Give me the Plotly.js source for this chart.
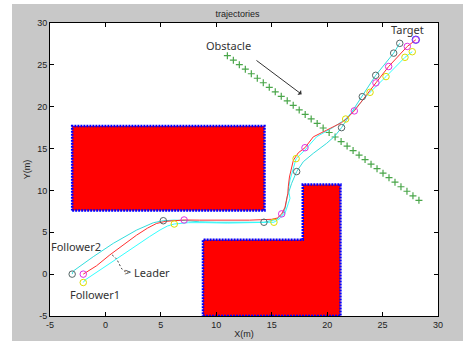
<!DOCTYPE html>
<html>
<head>
<meta charset="utf-8">
<script src="https://cdn.plot.ly/plotly-3.0.1.min.js"></script>
<style>
html,body{margin:0;padding:0;background:#ffffff;width:463px;height:341px;overflow:hidden;}
#chart{position:absolute;left:12px;top:4px;width:451px;height:337px;}
</style>
</head>
<body>
<div id="chart"></div>
<script>
// ---- data ----
var leaderX = [-2,-0.8,0.4,1.6,2.8,3.8,4.6,5.4,6.2,7.1,8.5,10,11.5,13,14,15,15.5,15.9,16.2,16.35,16.45,16.5,16.6,16.95,17.4,18.0,18.75,19.96,21.3,21.7,22.45,24.4,25.55,27.23,28];
var leaderY = [0,1.0,2.3,3.5,4.65,5.5,6.05,6.3,6.42,6.47,6.45,6.45,6.4,6.45,6.5,6.55,6.7,7.2,8.0,8.9,9.6,10.5,11.6,13.6,14.5,15.1,16.4,17.2,18.1,18.5,19.5,22.85,24.8,27.2,28];
var leaderMX = [-2,7.1,15.9,18.0,22.45,24.4,25.55,27.23,28];
var leaderMY = [0,6.47,7.2,15.1,19.5,22.85,24.8,27.2,28];

var f1X = [-2,-1.84,0.41,2.82,4.0,4.92,5.6,6.21,7.5,9,11,13,15.2,15.75,16.2,16.5,16.65,16.5,16.65,17.2,18.0,19.06,20.56,21.67,23.87,25.31,27.02,27.68];
var f1Y = [-1,-0.7,1.29,3.48,4.5,5.27,5.75,5.99,6.15,6.15,6.1,6.15,6.2,6.67,7.27,8.46,9.06,10.05,11.24,13.8,14.83,16.42,17.54,18.53,21.72,23.6,25.9,26.57];
var f1MX = [-2,6.21,15.2,17.2,21.67,23.87,25.31,27.02,27.68];
var f1MY = [-1,5.99,6.2,13.8,18.53,21.72,23.6,25.9,26.57];

var f2X = [-3,-2.9,-1.1,0.71,2.82,4.32,5.22,6.2,7.2,8.5,10,12,14.3,15.45,16.0,16.2,16.4,16.8,17.25,17.85,18.75,19.96,20.7,21.3,23.17,24.38,26.0,26.55];
var f2Y = [0,0.37,2.08,3.68,5.27,6.14,6.38,6.45,6.4,6.25,6.2,6.2,6.2,6.55,7.2,7.8,9.25,10.85,12.25,13.43,14.43,15.63,16.5,17.5,21.2,23.75,26.4,27.57];
var f2MX = [-3,5.22,14.3,17.25,21.3,23.17,24.38,26.0,26.55];
var f2MY = [0,6.38,6.2,12.25,17.5,21.2,23.75,26.4,27.57];

var targetX = [28];
var targetY = [28];

var obsLineX = [11.00,11.54,12.08,12.62,13.16,13.70,14.24,14.78,15.32,15.86,16.40,16.94,17.48,18.02,18.56,19.10,19.64,20.18,20.72,21.26,21.80,22.34,22.88,23.42,23.96,24.50,25.04,25.58,26.12,26.66,27.20,27.74,28.28];
var obsLineY = [26.10,25.56,25.02,24.48,23.94,23.40,22.86,22.32,21.78,21.24,20.70,20.16,19.62,19.08,18.54,18.00,17.46,16.92,16.38,15.84,15.30,14.76,14.22,13.68,13.14,12.60,12.06,11.52,10.98,10.44,9.90,9.36,8.82];

var rect1X = [-3,14.35,14.35,-3,-3];
var rect1Y = [7.6,7.6,17.7,17.7,7.6];
var lShapeX = [8.8,21.2,21.2,17.8,17.8,8.8,8.8];
var lShapeY = [-5,-5,10.7,10.7,4.1,4.1,-5];

var dashCurveX = [0.6,1.0,1.25,1.5,1.8,2.05];
var dashCurveY = [2.3,1.8,1.2,0.6,0.3,0.2];

var labelText = ["Obstacle","Target","Follower2","Follower1","Leader"];
var labelX = [11.12,27.23,-2.65,-0.94,4.17];
var labelY = [27.37,29.25,3.28,-2.49,0.22];

var arrowFrom = [13.49,25.66];
var arrowTo = [17.7,21.48];

var tickVals = [-5,0,5,10,15,20,25,30];
var tickText = ["-5","0","5","10","15","20","25","30"];

// ---- traces ----
var obstacleLine = {color:'#0000ff', width:2.5, dash:'2px,1px'};
var traces = [
  {x:rect1X, y:rect1Y, mode:'lines', fill:'toself', fillcolor:'#ff0000', line:obstacleLine, hoverinfo:'skip'},
  {x:lShapeX, y:lShapeY, mode:'lines', fill:'toself', fillcolor:'#ff0000', line:obstacleLine, hoverinfo:'skip'},
  {x:obsLineX, y:obsLineY, mode:'markers', marker:{symbol:'cross-thin', size:5, line:{color:'#4aa64a', width:1.2}}},
  {x:f2X, y:f2Y, mode:'lines', line:{color:'#33dddd', width:1}},
  {x:f1X, y:f1Y, mode:'lines', line:{color:'#33ffff', width:1}},
  {x:leaderX, y:leaderY, mode:'lines', line:{color:'#ff3030', width:1}},
  {x:f2MX, y:f2MY, mode:'markers', marker:{symbol:'circle-open', size:6.5, color:'#556666', line:{width:1}}},
  {x:f1MX, y:f1MY, mode:'markers', marker:{symbol:'circle-open', size:6.5, color:'#dddd00', line:{width:1}}},
  {x:leaderMX, y:leaderMY, mode:'markers', marker:{symbol:'circle-open', size:6.5, color:'#e030e0', line:{width:1}}},
  {x:targetX, y:targetY, mode:'markers', marker:{symbol:'circle-open', size:7.5, color:'#6040ff', line:{width:1}}},
  {x:dashCurveX, y:dashCurveY, mode:'lines', line:{color:'#444444', width:1, dash:'2px,2px', shape:'spline'}}
];

var annFont = {family:'Noto Sans, DejaVu Sans, sans-serif', size:11, color:'#333333'};
var annotations = labelText.map(function(t,i){
  return {x:labelX[i], y:labelY[i], xref:'x', yref:'y', text:t, showarrow:false, font:annFont, xanchor:'center', yanchor:'middle'};
});
annotations.push({x:arrowTo[0], y:arrowTo[1], ax:arrowFrom[0], ay:arrowFrom[1], axref:'x', ayref:'y', xref:'x', yref:'y',
  text:'', showarrow:true, arrowhead:1, arrowsize:1, arrowwidth:1, arrowcolor:'#333333'});
annotations.push({x:dashCurveX[dashCurveX.length-1], y:dashCurveY[dashCurveY.length-1], xref:'x', yref:'y', text:'&gt;', showarrow:false,
  font:{family:'DejaVu Sans, sans-serif', size:9, color:'#444444'}, xanchor:'center', yanchor:'middle'});

var axisCommon = {
  range:[-5,30], tickmode:'array', tickvals:tickVals, ticktext:tickText,
  ticks:'inside', ticklen:4, tickwidth:1, tickcolor:'#000000',
  showline:true, linecolor:'#000000', linewidth:1, mirror:'ticks',
  showgrid:false, zeroline:false, fixedrange:true,
  tickfont:{family:'Liberation Sans, Arial, sans-serif', size:9, color:'#222222'}
};

var layout = {
  width:451, height:337,
  margin:{l:38, r:25, t:19, b:25},
  paper_bgcolor:'#c8c8c8', plot_bgcolor:'#ffffff',
  showlegend:false,
  title:{text:'trajectories', font:{family:'Liberation Sans, Arial, sans-serif', size:9, color:'#222222'}, x:0.5, xanchor:'center', y:0.97, yanchor:'middle', yref:'container'},
  xaxis:Object.assign({}, axisCommon, {title:{text:'X(m)', font:{family:'Liberation Sans, Arial, sans-serif', size:9, color:'#222222'}, standoff:1}}),
  yaxis:Object.assign({}, axisCommon, {title:{text:'Y(m)', font:{family:'Liberation Sans, Arial, sans-serif', size:9, color:'#222222'}, standoff:5}}),
  annotations:annotations
};

Plotly.newPlot('chart', traces, layout, {displayModeBar:false, staticPlot:true});
</script>
</body>
</html>
